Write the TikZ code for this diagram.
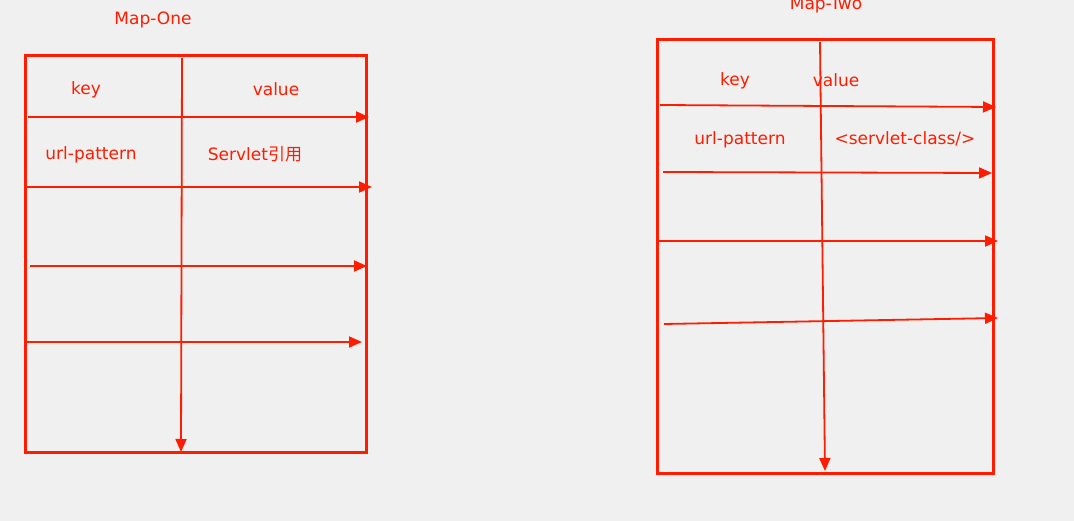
\documentclass[tikz,border=0pt]{standalone}
\usepackage{fontspec}
\setmainfont{DejaVu Sans}
\newfontfamily\cjk{Noto Sans CJK SC}
\usepackage{xcolor}
\usetikzlibrary{arrows.meta,positioning}
\definecolor{mapred}{RGB}{255,28,0}
\definecolor{bg}{RGB}{240,240,240}
\tikzset{>={Triangle[length=13pt,width=11pt]}}
\tikzset{
    mapbox/.style={draw=mapred,line width=3pt,minimum width=#1,inner sep=0pt},
    row/.style={->,draw=mapred,line width=1.8pt},
    lbl/.style={text=mapred,font=\fontsize{17}{20}\selectfont,inner sep=0pt}
}

\begin{document}
\begin{tikzpicture}[x=1pt,y=-1pt]
    \fill[bg] (0,0) rectangle (1074,521);
    \clip (0,0) rectangle (1074,521);

    % Map-One
    \node[mapbox=341pt,minimum height=396pt] (one) at (195.5,254) {};
    \node[lbl] (titleone) at (153,20) {Map-One};
    \node[lbl] (keyone) at (86,90) {key};
    \node[lbl] (valone) at (276,89) {value};
    \node[lbl] (urlone) at (91,155) {url-pattern};
    \node[lbl] (refone) at (255,154) {Servlet{\cjk 引用}};

    \coordinate (o1s) at (28,117);  \coordinate (o1e) at (369,117);
    \coordinate (o2s) at (26,187);  \coordinate (o2e) at (372,187);
    \coordinate (o3s) at (30,266);  \coordinate (o3e) at (367,266);
    \coordinate (o4s) at (26,342);  \coordinate (o4e) at (362,342);
    \coordinate (ovs) at (182,58);  \coordinate (ove) at (181,452);
    \foreach \i in {1,...,4}
        \draw[row] (o\i s) -- (o\i e);
    \draw[row] (ovs) -- (ove);

    % Map-Two
    \node[mapbox=336pt,minimum height=433pt] (two) at (825,256.5) {};
    \node[lbl] (titletwo) at (826,5) {Map-Two};
    \node[lbl] (keytwo) at (735,81) {key};
    \node[lbl] (valtwo) at (836,80) {value};
    \node[lbl] (urltwo) at (740,140) {url-pattern};
    \node[lbl] (clstwo) at (905,139) {<servlet-class/>};

    \coordinate (t1s) at (660,105); \coordinate (t1e) at (996,107);
    \coordinate (t2s) at (663,172); \coordinate (t2e) at (992,173);
    \coordinate (t3s) at (657,241); \coordinate (t3e) at (998,241);
    \coordinate (t4s) at (664,324); \coordinate (t4e) at (998,318);
    \coordinate (tvs) at (820,42);  \coordinate (tve) at (825,471);
    \foreach \i in {1,...,4}
        \draw[row] (t\i s) -- (t\i e);
    \draw[row] (tvs) -- (tve);
\end{tikzpicture}
\end{document}
